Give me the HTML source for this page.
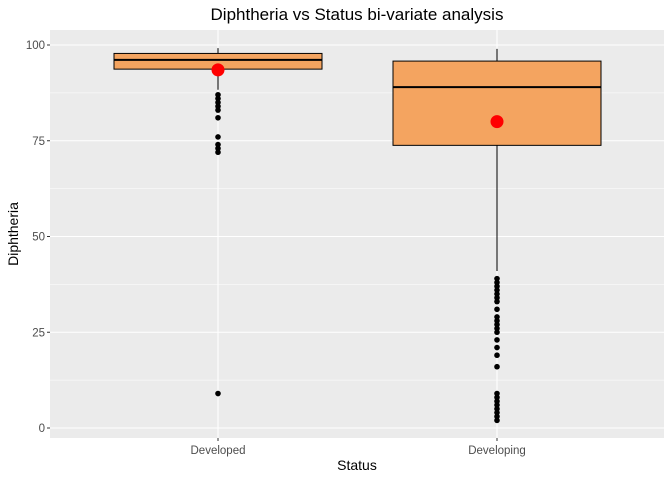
<!DOCTYPE html>
<html><head><meta charset="utf-8"><style>
body{margin:0;background:#fff;font-family:"Liberation Sans",sans-serif}
</style></head><body>
<svg id="c" width="672" height="480" xmlns="http://www.w3.org/2000/svg"></svg>
<script>
const categories=["Developed","Developing"];
const q1=[93.7,73.8];
const medians=[96.1,89];
const q3=[97.8,95.8];
const whiskLow=[88.3,41];
const whiskHigh=[99.2,99];
const means=[93.5,80];
const outliersDeveloped=[87,86,85,84,83,81,76,74,73,72,9];
const outliersDeveloping=[39,38,37,36,35,34,33,31,29,28,27,26,25,23,21,19,16,9,8,7,6,5,4,3,2];
const outliers=[outliersDeveloped,outliersDeveloping];
const yTicks=[0,25,50,75,100];

const svg=document.getElementById('c');
const NS='http://www.w3.org/2000/svg';
const L=50,R=664,T=30,B=438;
const y=v=>428-v*3.83;
const step=279;
const x=i=>218+step*i;
const bw=208;
function el(t,a,p){const e=document.createElementNS(NS,t);for(const k in a)e.setAttribute(k,a[k]);(p||svg).appendChild(e);return e;}
let e=el('rect',{x:L,y:T,width:R-L,height:B-T,fill:'#ebebeb'});


for(let i=0;i<yTicks.length-1;i++){const m=(yTicks[i]+yTicks[i+1])/2;el('line',{x1:L,x2:R,y1:y(m),y2:y(m),stroke:'#fff','stroke-width':0.5});}
yTicks.forEach(t=>{
 e=el('line',{x1:L,x2:R,y1:y(t),y2:y(t),stroke:'#fff','stroke-width':1.1});
 
 
 el('line',{x1:L-3,x2:L,y1:y(t),y2:y(t),stroke:'#333'});
 e=el('text',{x:L-5,y:y(t)+4,'text-anchor':'end','font-size':11.5,fill:'#4d4d4d'});e.textContent=t;
 
 
});
categories.forEach((c,i)=>{
 const cx=x(i);
 el('line',{x1:cx,x2:cx,y1:T,y2:B,stroke:'#fff','stroke-width':1.1});
 el('line',{x1:cx,x2:cx,y1:B,y2:B+3,stroke:'#333'});
 e=el('text',{x:cx,y:B+16,'text-anchor':'middle','font-size':11.5,fill:'#4d4d4d'});e.textContent=c;
 
 
});
categories.forEach((c,i)=>{
 const cx=x(i);
 el('line',{x1:cx,x2:cx,y1:y(whiskHigh[i]),y2:y(q3[i]),stroke:'#000'});
 el('line',{x1:cx,x2:cx,y1:y(q1[i]),y2:y(whiskLow[i]),stroke:'#000'});
 e=el('rect',{x:cx-bw/2,y:y(q3[i]),width:bw,height:y(q1[i])-y(q3[i]),fill:'#f4a460',stroke:'#000','stroke-width':1});
 
 
 el('line',{x1:cx-bw/2,x2:cx+bw/2,y1:y(medians[i]),y2:y(medians[i]),stroke:'#000','stroke-width':2});
 outliers[i].forEach(v=>{
  e=el('circle',{cx:cx,cy:y(v),r:2.8,fill:'#000'});
  
  
 });
 e=el('circle',{cx:cx,cy:y(means[i]),r:6.5,fill:'#f00'});
 
 
});
e=el('text',{x:357,y:20,'text-anchor':'middle','font-size':17,fill:'#000'});e.textContent='Diphtheria vs Status bi-variate analysis';


e=el('text',{x:357,y:470,'text-anchor':'middle','font-size':14,fill:'#000'});e.textContent='Status';


e=el('text',{x:18,y:234,'text-anchor':'middle','font-size':14,fill:'#000',transform:'rotate(-90 18 234)'});e.textContent='Diphtheria';


</script>
</body></html>
